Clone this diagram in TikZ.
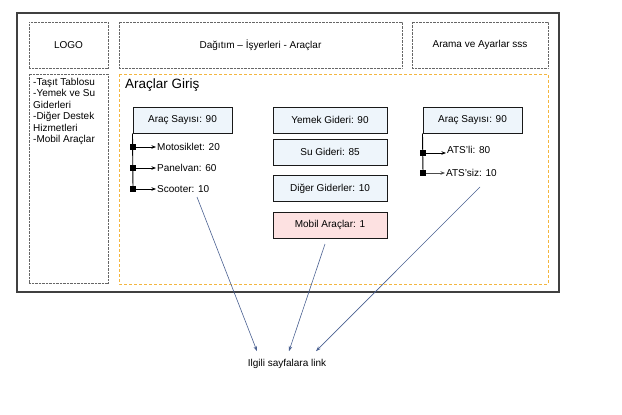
\documentclass[tikz,border=0pt]{standalone}
\usepackage{fontspec}
\setmainfont{Liberation Sans}
\usetikzlibrary{arrows.meta,positioning,calc}
\definecolor{boxblue}{HTML}{EEF5FB}
\definecolor{boxpink}{HTML}{FDE1E1}
\definecolor{frameorange}{HTML}{F4B63F}
\definecolor{linkblue}{HTML}{4A6091}

\begin{document}
\begin{tikzpicture}[x=1pt,y=-1pt,
    font=\fontsize{10}{12}\selectfont,
    dotbox/.style={draw=black!60, line width=1pt, dash pattern=on 0.7pt off 0.7pt},
    valbox/.style={draw=black!90, line width=1pt, fill=boxblue, minimum height=26pt, inner sep=0pt},
    sq/.style={fill=black, minimum size=5.5pt, inner sep=0pt},
    item/.style={anchor=west, inner sep=1pt},
    branch/.style={-{Stealth[length=4.5pt,width=3.5pt]}, line width=0.8pt},
    linkarrow/.style={-{Stealth[length=5pt,width=3.5pt]}, draw=linkblue, line width=0.6pt}]
    \useasboundingbox (0,0) rectangle (622,415);
    \draw[line width=1.3pt, black!75] (17,13) rectangle (559,292);
    % header
    \node[dotbox, minimum width=79pt, minimum height=46pt] (logo) at (68.5,45) {LOGO};
    \node[dotbox, minimum width=283pt, minimum height=46pt] (title) at (260.5,45) {Dağıtım – İşyerleri - Araçlar};
    \node[dotbox, minimum width=136pt, minimum height=46pt] (search) at (480,45) {Arama ve Ayarlar sss};
    % menu
    \node[dotbox, minimum width=79pt, minimum height=209pt] (menubox) at (68.5,178.5) {};
    \node[anchor=north west, align=left, inner sep=2pt, font=\fontsize{10}{11.5}\selectfont] (menu) at (31,76)
      {-Taşıt Tablosu\\-Yemek ve Su\\Giderleri\\-Diğer Destek\\Hizmetleri\\-Mobil Araçlar};
    % content
    \draw[frameorange, line width=1pt, dash pattern=on 3pt off 2pt] (119,74) rectangle (548,284);
    \node[anchor=west, inner sep=0pt, font=\fontsize{13.5}{16}\selectfont] (head) at (125,85) {Araçlar Giriş};

    \node[valbox, minimum width=99pt] (arac1) at (182.5,120) {Araç Sayısı: 90};
    \node[sq] (s1) at (133,147) {};
    \node[sq] (s2) at (133,168) {};
    \node[sq] (s3) at (133,189) {};
    \draw[line width=0.9pt] (arac1.south west) -- (s3.center);
    \node[item] (moto) at (156,147) {Motosiklet: 20};
    \node[item] (panel) at (156,168) {Panelvan: 60};
    \node[item] (scoot) at (156,189) {Scooter: 10};
    \draw[branch] (s1) -- (moto);
    \draw[branch] (s2) -- (panel);
    \draw[branch] (s3) -- (scoot);

    \node[valbox, minimum width=114pt] (yemek) at (330,120) {Yemek Gideri: 90};
    \node[valbox, minimum width=114pt] (su) at (330,152) {Su Gideri: 85};
    \node[valbox, minimum width=114pt] (diger) at (330,188.5) {Diğer Giderler: 10};
    \node[valbox, minimum width=114pt, fill=boxpink] (mobil) at (330,225) {Mobil Araçlar: 1};

    \node[valbox, minimum width=99pt] (arac2) at (472.5,120) {Araç Sayısı: 90};
    \node[sq] (s4) at (423,153) {};
    \node[sq] (s5) at (423,173) {};
    \draw[line width=0.9pt] (arac2.south west) -- (s5.center);
    \node[item, anchor=south west] (atsli) at (446,155) {ATS'li: 80};
    \node[item] (atssiz) at (445,173) {ATS'siz: 10};
    \draw[branch] (s4) -- (s4 -| atsli.west);
    \draw[branch, black!70] (s5) -- (atssiz);

    % links
    \coordinate (c1) at (197,197);
    \coordinate (c2) at (325,244);
    \coordinate (c3) at (480,187);
    \node[inner ysep=8pt] (link) at (287,364) {Ilgili sayfalara link};
    \draw[linkarrow] (c1) -- ([xshift=-30pt]link.north);
    \draw[linkarrow] (c2) -- ([xshift=2pt]link.north);
    \draw[linkarrow] (c3) -- ([xshift=29pt]link.north);
\end{tikzpicture}
\end{document}
